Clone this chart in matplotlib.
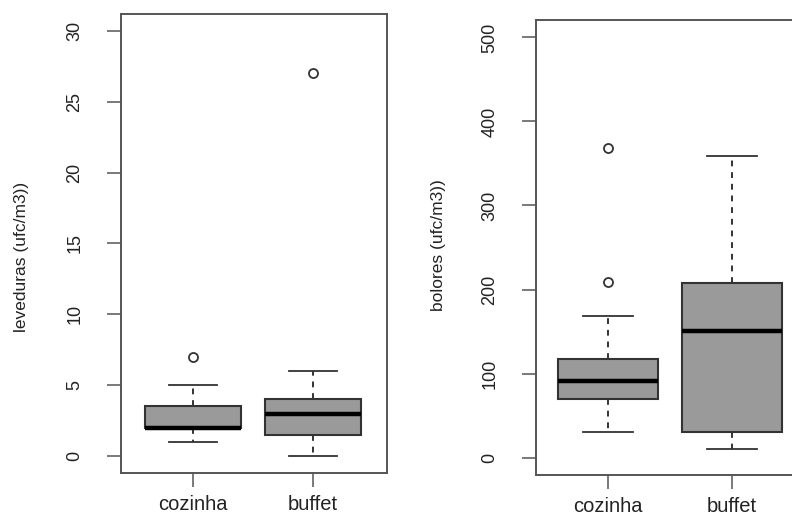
import matplotlib
matplotlib.use("Agg")
import matplotlib.pyplot as plt

plt.rcParams['font.family'] = ['Liberation Sans', 'DejaVu Sans']

#### Data ####
groups = ['cozinha', 'buffet']

# leveduras (ufc/m3)
lev_whislo = [1, 0]
lev_q1 = [2, 1.5]
lev_med = [2, 3]
lev_q3 = [3.5, 4]
lev_whishi = [5, 6]
lev_fliers = [[7], [27]]
lev_ticks = [0, 5, 10, 15, 20, 25, 30]

# bolores (ufc/m3)
bol_whislo = [30, 10]
bol_q1 = [70, 30]
bol_med = [91, 151]
bol_q3 = [117, 208]
bol_whishi = [168, 359]
bol_fliers = [[209, 369], []]
bol_ticks = [0, 100, 200, 300, 400, 500]

TXT = '#222222'
EDGE = '#333333'
FILL = '#9a9a9a'


def make_stats(lo, q1, med, q3, hi, fl):
    stats = []
    for i in range(len(groups)):
        stats.append({'whislo': lo[i], 'q1': q1[i], 'med': med[i],
                      'q3': q3[i], 'whishi': hi[i], 'fliers': fl[i],
                      'label': groups[i]})
    return stats


def draw_box(ax, stats, ticks, ylim, xlim):
    ax.bxp(stats, positions=[1, 2], widths=0.8, patch_artist=True,
           capwidths=0.4,
           boxprops=dict(facecolor=FILL, edgecolor=EDGE, linewidth=1.5),
           medianprops=dict(color='black', linewidth=3.2),
           whiskerprops=dict(color=EDGE, linewidth=1.4, linestyle=(0, (3, 3))),
           capprops=dict(color=EDGE, linewidth=1.3),
           flierprops=dict(marker='o', markerfacecolor='none',
                           markeredgecolor=EDGE, markersize=6.5,
                           markeredgewidth=1.3))
    ax.set_xlim(*xlim)
    ax.set_ylim(*ylim)
    ax.set_yticks(ticks)
    ax.set_xticks([1, 2])
    ax.set_xticklabels(groups)
    for s in ax.spines.values():
        s.set_color('#555555')
        s.set_linewidth(1.4)
    ax.tick_params(axis='y', length=10, width=1.1, color='#555555',
                   pad=17, labelsize=13, labelcolor=TXT, labelrotation=90)
    ax.tick_params(axis='x', length=10, width=1.1, color='#555555',
                   pad=6, labelsize=14.5, labelcolor=TXT)
    for lab in ax.get_yticklabels():
        lab.set_va('center')


fig = plt.figure(figsize=(7.92, 5.16), dpi=100)

ax1 = fig.add_axes([121 / 792, 1 - 473 / 516, 266 / 792, 459 / 516])
draw_box(ax1, make_stats(lev_whislo, lev_q1, lev_med, lev_q3, lev_whishi, lev_fliers),
         lev_ticks, (-1.2, 31.2), (0.4, 2.617))

ax2 = fig.add_axes([536 / 792, 1 - 475 / 516, 268 / 792, 455 / 516])
draw_box(ax2, make_stats(bol_whislo, bol_q1, bol_med, bol_q3, bol_whishi, bol_fliers),
         bol_ticks, (-20.8, 520.8), (0.419, 2.58))

fig.text(22 / 792, 1 - 257 / 516, 'leveduras (ufc/m3))', rotation=90,
         ha='center', va='center', fontsize=12.5, color=TXT)
fig.text(439 / 792, 1 - 245 / 516, 'bolores (ufc/m3))', rotation=90,
         ha='center', va='center', fontsize=12.5, color=TXT)

fig.savefig('out.png', dpi=100, facecolor='white')
